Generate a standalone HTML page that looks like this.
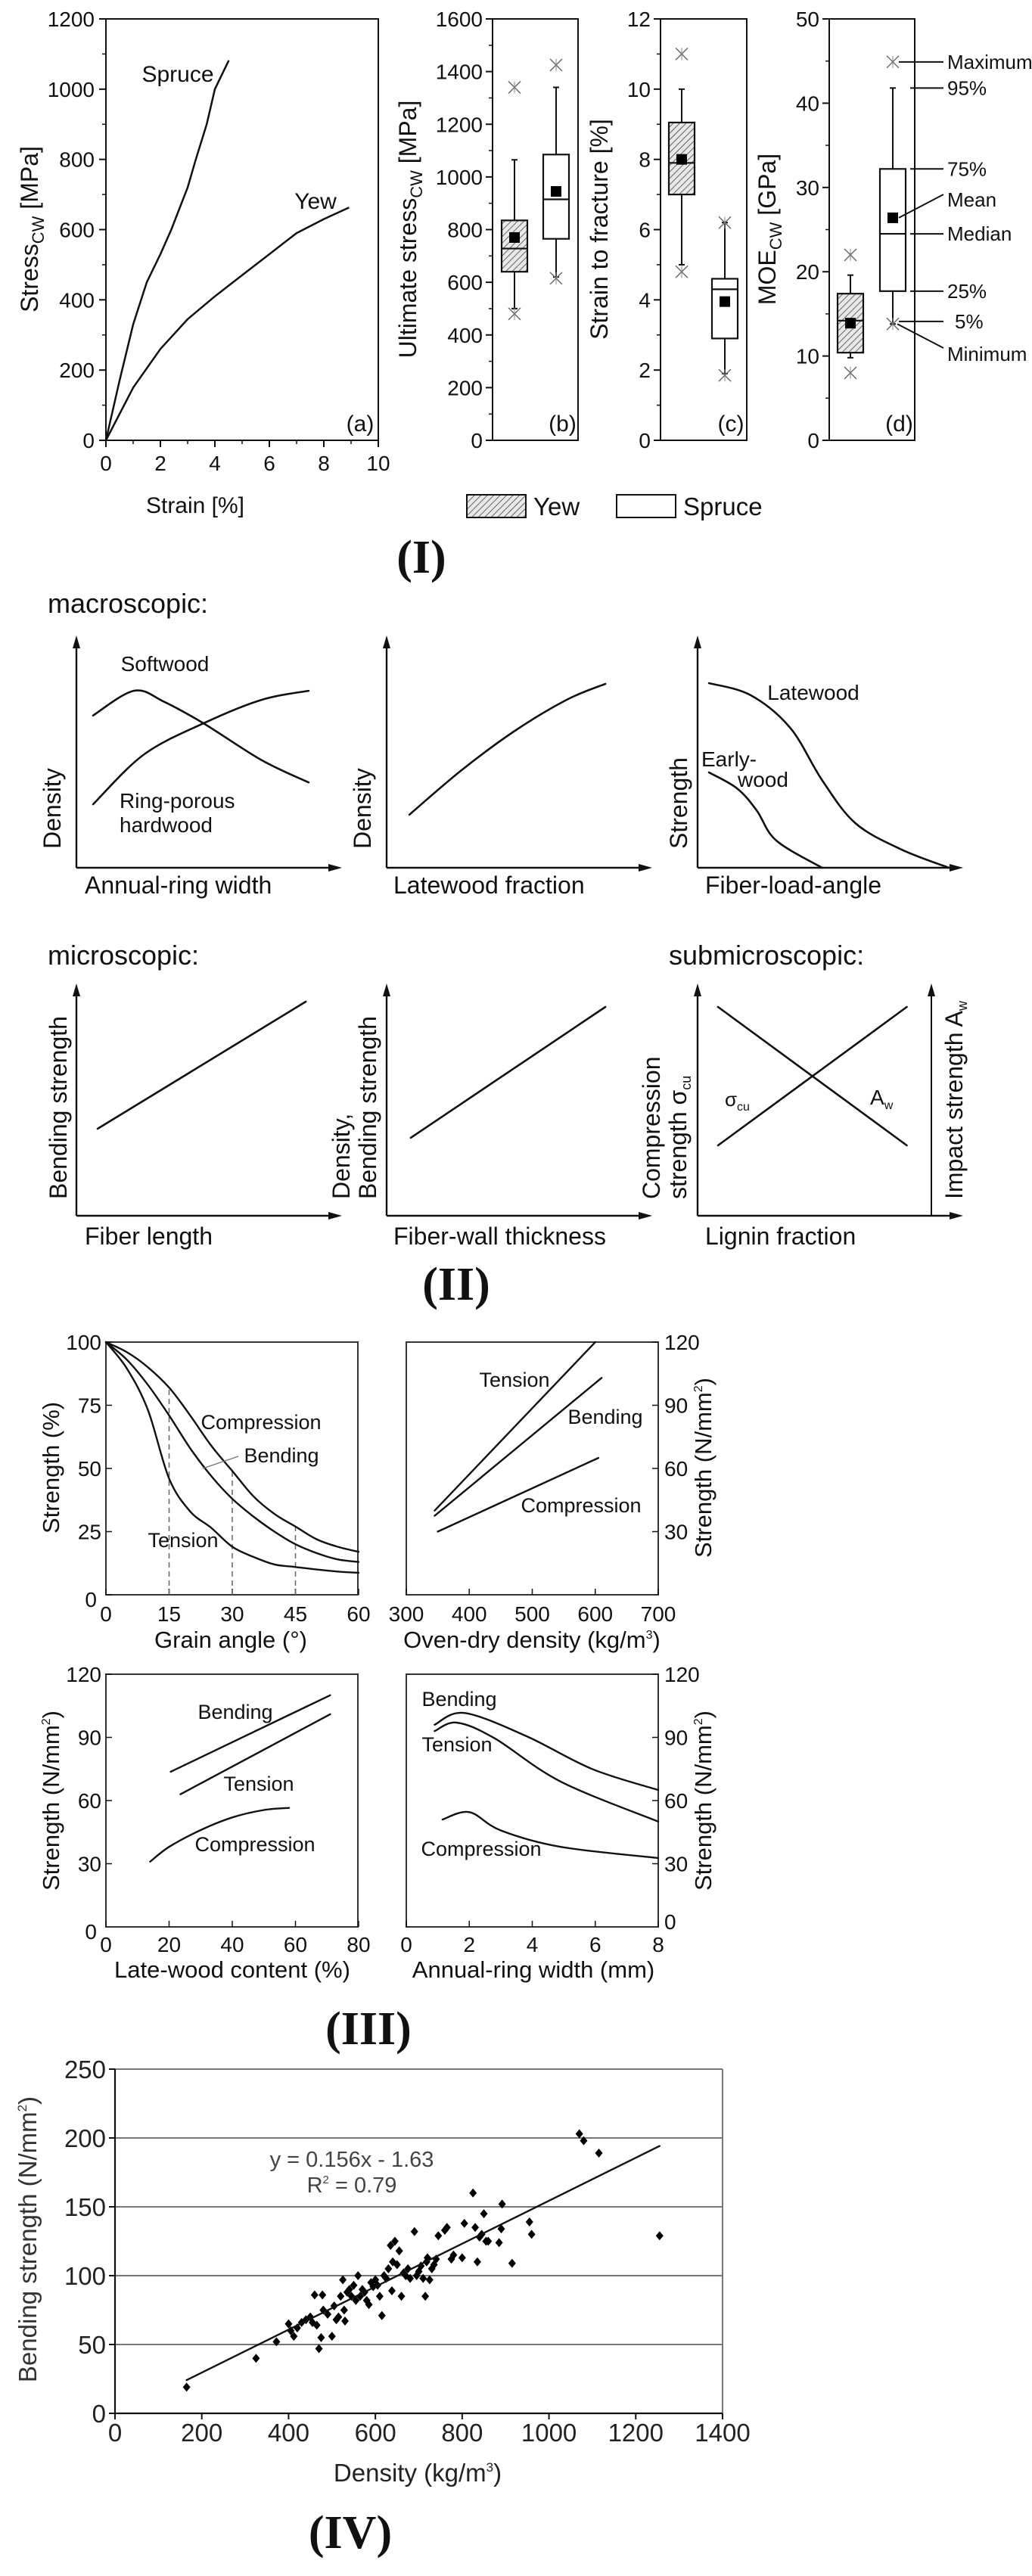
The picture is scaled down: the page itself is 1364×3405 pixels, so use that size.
<!DOCTYPE html>
<html><head><meta charset="utf-8"><title>Wood strength figure</title>
<style>
html,body{margin:0;padding:0;background:#fff;}
svg{display:block;font-family:"Liberation Sans",Arial,sans-serif;}
</style></head>
<body>
<svg id="fig" xmlns="http://www.w3.org/2000/svg" width="1364" height="3405" viewBox="0 0 1364 3405">
<defs>
<pattern id="hatch" patternUnits="userSpaceOnUse" width="6" height="6" patternTransform="rotate(45)">
<rect width="6" height="6" fill="#e8e8e8"/><line x1="0" y1="0" x2="0" y2="6" stroke="#444" stroke-width="1.6"/>
</pattern>
</defs>
<rect x="0" y="0" width="1364" height="3405" fill="#fff"/>
</svg>
<script>
// ---------- DATA ----------
const spruceStrain=[0,0.5,1,1.5,2,2.4,3,3.3,3.7,4.0,4.5];
const spruceStress=[0,170,330,450,530,600,720,800,900,1000,1080];
const yewStrain=[0,1,2,3,4,5,6,7,8,8.9];
const yewStress=[0,150,260,345,410,470,530,590,630,662];
const axAx=[0,2,4,6,8,10];
const axAy=[0,200,400,600,800,1000,1200];
const ultYew=[500,640,728,835,1065,770,480,1340];
const ultSpruce=[620,765,915,1085,1340,945,615,1425];
const sfYew=[5,7,7.9,9.05,10,8.0,4.8,11];
const sfSpruce=[1.9,2.9,4.3,4.6,6.2,3.95,1.85,6.2];
const moeYew=[9.8,10.4,14.2,17.4,19.6,13.9,8,22];
const moeSpruce=[13.8,17.7,24.5,32.2,41.8,26.4,13.8,44.9];
const ticksB=[0,200,400,600,800,1000,1200,1400,1600];
const ticksC=[0,2,4,6,8,10,12];
const ticksD=[0,10,20,30,40,50];
const softU=[6.3,21.7,33,48,70,87.7], softV=[66,76.7,72,62.6,46.6,37];
const hardU=[6.3,25.4,48,70,87.7], hardV=[27.5,49,62.6,72.8,76.7];
const lateFracU=[8.6,28,48,68,82.6], lateFracV=[23,42,59,72.8,79.7];
const latewoodU=[4.3,20,35,47,59.6,77,94.9], latewoodV=[80,74.8,60.6,38,19.3,7.9,0];
const earlyU=[4.3,14.9,22.3,29.7,47], earlyV=[41.3,34.4,24.9,11.8,0];
const fiberLenU=[8,86.6], fiberLenV=[37.7,92.8];
const wallU=[9.1,82.6], wallV=[33.8,90.5];
const sigmaU=[7.7,79], sigmaV=[30.5,90.5];
const awU=[7.7,79], awV=[90.5,30.5];
const grainAngle=[0,5,10,15,20,25,30,35,40,45,50,55,60];
const grainComp=[100,96,90,82,71,59,49,39,32,27,22,19,17];
const grainBend=[100,93,83,71,58,47,38,31,25,20,16.5,14,13];
const grainTens=[100,89.5,73,46,33,26.5,19,15,12,11,10,9.2,8.7];
const grainTicksX=[0,15,30,45,60], grainTicksY=[0,25,50,75,100];
const densX=[345,600], densTens=[40,120];
const densBX=[345,610], densBend=[37.5,103];
const densCX=[350,605], densComp=[30,65];
const densTicksX=[300,400,500,600,700], strTicks=[30,60,90,120];
const lwBendX=[20.5,71], lwBend=[73.7,110];
const lwTensX=[23.6,71], lwTens=[63,101];
const lwCompX=[14,20,30,40,50,58], lwComp=[31,38,46,52,55.5,56.5];
const lwTicksX=[0,20,40,60,80];
const arX=[0.9,1.84,3.8,5.9,8], arBend=[96,101.6,90.7,75,65];
const arTX=[0.9,1.6,2.8,4.9,8], arTens=[93,97,89.6,69,50];
const arCX=[1.15,2,3,4.9,8], arComp=[51,54.5,45.8,38,32.7];
const arTicksX=[0,2,4,6,8];
const densityPts=[165,325,372,400,405,412,420,430,440,450,455,460,465,470,475,478,480,490,500,505,510,515,520,525,528,530,535,540,545,550,555,560,565,570,575,580,585,590,595,600,605,610,615,620,625,630,635,638,640,645,650,655,660,665,670,675,680,690,695,700,705,710,715,718,720,725,730,735,740,745,760,765,775,780,800,805,825,830,835,840,845,850,855,860,885,890,892,915,955,960,1070,1080,1115,1255];
const bendingPts=[19,40,52,65,60,56,62,66,68,70,66,86,64,47,55,86,75,72,56,78,68,70,85,97,75,67,88,90,85,93,82,100,85,90,88,82,79,95,92,97,93,85,71,100,98,105,122,89,110,125,108,118,85,102,100,105,98,132,100,103,107,98,85,110,113,97,105,108,112,129,133,135,112,115,113,138,160,135,110,128,130,145,125,125,124,134,152,109,139,130,203,198,189,129];
const ivTicksX=[0,200,400,600,800,1000,1200,1400];
const ivTicksY=[0,50,100,150,200,250];
const trendSlope=0.156, trendIntercept=-1.63;

// ---------- HELPERS ----------
const NS="http://www.w3.org/2000/svg";
const svg=document.getElementById('fig');
function mk(tag,attrs,parent){const e=document.createElementNS(NS,tag);for(const k in attrs)e.setAttribute(k,attrs[k]);(parent||svg).appendChild(e);return e;}
function L(x1,y1,x2,y2,name,w,col,dash){const e=mk('line',{x1:x1,y1:y1,x2:x2,y2:y2,stroke:col||'#111','stroke-width':w||2});if(dash)e.setAttribute('stroke-dasharray',dash);


return e;}
function T(x,y,s,size,name,anchor,opts){opts=opts||{};const e=mk('text',{x:x,y:y,'font-size':size,fill:opts.fill||'#111','text-anchor':anchor||'start'});
if(opts.rot)e.setAttribute('transform','rotate(-90 '+x+' '+y+')');
if(opts.family)e.setAttribute('font-family',opts.family);
if(opts.weight)e.setAttribute('font-weight',opts.weight);
e.textContent=s;


return e;}
function P(pts,name,w,col){const d=pts.map((p,i)=>(i?'L':'M')+p[0].toFixed(1)+' '+p[1].toFixed(1)).join(' ');const e=mk('path',{d:d,fill:'none',stroke:col||'#111','stroke-width':w||2.5,'stroke-linejoin':'round','stroke-linecap':'round'});


return e;}
function smooth(pts,name,w){
  let d='M'+pts[0][0]+' '+pts[0][1];
  for(let i=0;i<pts.length-1;i++){const p0=pts[i-1]||pts[i],p1=pts[i],p2=pts[i+1],p3=pts[i+2]||p2;
    d+=' C'+(p1[0]+(p2[0]-p0[0])/6).toFixed(1)+' '+(p1[1]+(p2[1]-p0[1])/6).toFixed(1)+' '+(p2[0]-(p3[0]-p1[0])/6).toFixed(1)+' '+(p2[1]-(p3[1]-p1[1])/6).toFixed(1)+' '+p2[0].toFixed(1)+' '+p2[1].toFixed(1);}
  const e=mk('path',{d:d,fill:'none',stroke:'#111','stroke-width':w||2.6,'stroke-linecap':'round'});
  
  
  return e;}
function zip(xs,ys,fx,fy){return xs.map((x,i)=>[fx(x),fy(ys[i])]);}

// ---------- SECTION I ----------
const top1=25,bot1=582;
const aX=v=>140+v*36, aY=v=>bot1-v*(bot1-top1)/1200;
let r=mk('rect',{x:140,y:top1,width:360,height:bot1-top1,fill:'none',stroke:'#111','stroke-width':2});


axAx.forEach(v=>{L(aX(v),bot1,aX(v),bot1+9,'x-tick-a');T(aX(v),bot1+40,String(v),28,'x-tick-label-a','middle');});
for(let v=1;v<10;v+=2)L(aX(v),bot1,aX(v),bot1+5,'x-minor-tick-a',1.5);
axAy.forEach(v=>{L(140,aY(v),131,aY(v),'y-tick-a');T(125,aY(v)+10,String(v),28,'y-tick-label-a','end');});
for(let v=100;v<1200;v+=200)L(140,aY(v),135,aY(v),'y-minor-tick-a',1.5);
P(zip(spruceStrain,spruceStress,aX,aY),'spruce-curve',2.5);
P(zip(yewStrain,yewStress,aX,aY),'yew-curve',2.5);
T(235,108,'Spruce',30,'spruce-label','middle');
T(417,276,'Yew',30,'yew-label','middle');
T(476,570,'(a)',30,'panel-a-label','middle');
T(258,678,'Strain [%]',30,'x-axis-title-a','middle');
let t=T(50,303,'',32,'y-axis-title-a','middle',{rot:1});
t.innerHTML='Stress<tspan font-size="22" dy="8">CW</tspan><tspan dy="-8"> [MPa]</tspan>';

function boxPanel(left,right,max,ticks,minorStep,yew,spruce,yewX,spX,id,label,title,titleX){
  const Y=v=>bot1-v*(bot1-top1)/max;
  let fr=mk('rect',{x:left,y:top1,width:right-left,height:bot1-top1,fill:'none',stroke:'#111','stroke-width':2});
  
  
  ticks.forEach(v=>{L(left,Y(v),left-9,Y(v),'y-tick-'+id);T(left-13,Y(v)+10,String(v),28,'y-tick-label-'+id,'end');});
  for(let v=minorStep;v<max;v+=minorStep*2)L(left,Y(v),left-5,Y(v),'y-minor-tick-'+id,1.5);
  [[yew,yewX,'url(#hatch)','yew'],[spruce,spX,'#fff','spruce']].forEach(([s,cx,fill,nm])=>{
    const hw=17;
    L(cx,Y(s[0]),cx,Y(s[1]),nm+'-whisker-low-'+id,2);
    L(cx,Y(s[3]),cx,Y(s[4]),nm+'-whisker-high-'+id,2);
    L(cx-4,Y(s[0]),cx+4,Y(s[0]),nm+'-cap-low-'+id,2);
    L(cx-4,Y(s[4]),cx+4,Y(s[4]),nm+'-cap-high-'+id,2);
    let b=mk('rect',{x:cx-hw,y:Y(s[3]),width:hw*2,height:Y(s[1])-Y(s[3]),fill:fill,stroke:'#111','stroke-width':2.2});
    
    
    L(cx-hw,Y(s[2]),cx+hw,Y(s[2]),nm+'-median-'+id,2.2);
    let m=mk('rect',{x:cx-7,y:Y(s[5])-7,width:14,height:14,fill:'#000'});
    
    
    [s[6],s[7]].forEach(o=>{const y=Y(o);L(cx-8,y-8,cx+8,y+8,nm+'-outlier-'+id,1.4,'#666');L(cx-8,y+8,cx+8,y-8,nm+'-outlier-'+id,1.4,'#666');L(cx,y-8,cx,y+8,nm+'-outlier-'+id,1,'#888');});
  });
  T((left+right)/2+36,570,label,30,'panel-'+id+'-label','middle');
  let tt=T(titleX,303,'',32,'y-axis-title-'+id,'middle',{rot:1});
  tt.innerHTML=title;
  return Y;
}
boxPanel(651,764,1600,ticksB,100,ultYew,ultSpruce,680,735,'b','(b)','Ultimate stress<tspan font-size="22" dy="8">CW</tspan><tspan dy="-8"> [MPa]</tspan>',550);
boxPanel(873,987,12,ticksC,1,sfYew,sfSpruce,901,958,'c','(c)','Strain to fracture [%]',803);
const dY=boxPanel(1096,1209,50,ticksD,5,moeYew,moeSpruce,1124,1180,'d','(d)','MOE<tspan font-size="22" dy="8">CW</tspan><tspan dy="-8"> [GPa]</tspan>',1025);
const annNames=['Maximum','95%','75%','Median','25%','5%'];
const annVals=[44.9,41.8,32.2,24.5,17.7,14.1];
annNames.forEach((n,i)=>{const y=dY(annVals[i]);L(i==0||i==5?1188:1203,y,1247,y,'annotation-line');T(n=='5%'?1262:1252,y+9,n,26,'annotation-'+n.replace('%','pct').toLowerCase());});
L(1188,dY(26.4),1247,265-8,'annotation-line-mean');T(1252,273,'Mean',26,'annotation-mean');
L(1186,dY(13.8),1247,460,'annotation-line-minimum');T(1252,477,'Minimum',26,'annotation-minimum');
let lg=mk('rect',{x:617,y:654,width:78,height:30,fill:'url(#hatch)',stroke:'#111','stroke-width':2});


T(705,681,'Yew',33,'legend-yew-label');
lg=mk('rect',{x:815,y:654,width:78,height:30,fill:'#fff',stroke:'#111','stroke-width':2});


T(903,681,'Spruce',33,'legend-spruce-label');
T(557,757,'(I)',62,'section-label-i','middle',{family:'"Liberation Serif",serif',weight:'bold'});

// ---------- SECTION II ----------
function concept(ox,oy,name,rightAxis){
  const X=u=>ox+u*3.5, Y=v=>oy-v*3.05;
  L(ox,oy,ox,oy-300,name+'-y-axis',2.4);
  let a=mk('path',{d:`M${ox-5} ${oy-290} L${ox} ${oy-307} L${ox+5} ${oy-290} Z`,fill:'#111'});
  
  
  L(ox,oy,ox+342,oy,name+'-x-axis',2.4);
  a=mk('path',{d:`M${ox+333} ${oy-5} L${ox+351} ${oy} L${ox+333} ${oy+5} Z`,fill:'#111'});
  
  
  if(rightAxis){L(ox+309,oy,ox+309,oy-300,name+'-right-axis',2);a=mk('path',{d:`M${ox+304} ${oy-290} L${ox+309} ${oy-307} L${ox+314} ${oy-290} Z`,fill:'#111'});
  
  }
  return [X,Y];
}
T(63,810,'macroscopic:',36,'heading-macroscopic');
let [X1,Y1]=concept(101,1147,'annual-ring');
smooth(zip(softU,softV,X1,Y1),'softwood-curve');
smooth(zip(hardU,hardV,X1,Y1),'hardwood-curve');
T(218,887,'Softwood',28,'softwood-label','middle');
T(158,1068,'Ring-porous',28,'ring-porous-label');
T(158,1100,'hardwood',28,'hardwood-label');
T(80,1122,'Density',32,'y-title-annual-ring','start',{rot:1});
T(112,1181,'Annual-ring width',32,'x-title-annual-ring');
let [X2,Y2]=concept(511,1147,'latewood-fraction');
smooth(zip(lateFracU,lateFracV,X2,Y2),'latewood-fraction-curve');
T(490,1122,'Density',32,'y-title-latewood-fraction','start',{rot:1});
T(520,1181,'Latewood fraction',32,'x-title-latewood-fraction');
let [X3,Y3]=concept(922,1147,'fiber-load');
smooth(zip(latewoodU,latewoodV,X3,Y3),'latewood-curve');
smooth(zip(earlyU,earlyV,X3,Y3),'earlywood-curve');
T(1075,925,'Latewood',28,'latewood-label','middle');
T(927,1013,'Early-',28,'early-label');
T(975,1040,'wood',28,'wood-label');
T(908,1122,'Strength',32,'y-title-fiber-load','start',{rot:1});
T(932,1181,'Fiber-load-angle',32,'x-title-fiber-load');

T(63,1275,'microscopic:',36,'heading-microscopic');
T(884,1275,'submicroscopic:',36,'heading-submicroscopic');
let [X4,Y4]=concept(101,1607,'fiber-length');
P(zip(fiberLenU,fiberLenV,X4,Y4),'fiber-length-line',2.6);
T(88,1585,'Bending strength',32,'y-title-fiber-length','start',{rot:1});
T(112,1645,'Fiber length',32,'x-title-fiber-length');
let [X5,Y5]=concept(511,1607,'fiber-wall');
P(zip(wallU,wallV,X5,Y5),'fiber-wall-line',2.6);
T(462,1585,'Density,',32,'y-title-fiber-wall-1','start',{rot:1});
T(497,1585,'Bending strength',32,'y-title-fiber-wall-2','start',{rot:1});
T(520,1645,'Fiber-wall thickness',32,'x-title-fiber-wall');
let [X6,Y6]=concept(922,1607,'lignin',true);
P(zip(sigmaU,sigmaV,X6,Y6),'compression-strength-line',2.6);
P(zip(awU,awV,X6,Y6),'impact-strength-line',2.6);
t=T(958,1462,'',26,'sigma-label');t.innerHTML='σ<tspan font-size="16" dy="6">cu</tspan>';
t=T(1150,1460,'',28,'aw-label');t.innerHTML='A<tspan font-size="16" dy="6">w</tspan>';
T(872,1585,'Compression',32,'y-title-lignin-1','start',{rot:1});
t=T(907,1585,'',32,'y-title-lignin-2','start',{rot:1});t.innerHTML='strength σ<tspan font-size="18" dy="6">cu</tspan>';
t=T(1272,1585,'',32,'y-title-lignin-right','start',{rot:1});t.innerHTML='Impact strength A<tspan font-size="18" dy="6">w</tspan>';
T(932,1645,'Lignin fraction',32,'x-title-lignin');
T(603,1718,'(II)',62,'section-label-ii','middle',{family:'"Liberation Serif",serif',weight:'bold'});

// ---------- SECTION III ----------
function frame3(l,t,name){let f=mk('rect',{x:l,y:t,width:333,height:334,fill:'none',stroke:'#333','stroke-width':2});

}
const gX=v=>140+v*334/60, gY=v=>2108-v*334/100;
frame3(140,1774,'grain-angle-frame');
grainTicksX.forEach(v=>{L(gX(v),2108,gX(v),2100,'x-tick-grain',1.5);T(gX(v),2143,String(v),28,'x-tick-label-grain','middle');});
grainTicksY.forEach(v=>{L(140,gY(v),148,gY(v),'y-tick-grain',1.5);T(v==0?128:134,gY(v)+(v==0?16:10),String(v),28,'y-tick-label-grain','end');});
[[15,82],[30,49],[45,27]].forEach(([a,h])=>L(gX(a),2108,gX(a),gY(h),'dashed-guide-'+a,1.5,'#666','7 5'));
smooth(zip(grainAngle,grainComp,gX,gY),'grain-compression-curve',2.4);
smooth(zip(grainAngle,grainBend,gX,gY),'grain-bending-curve',2.4);
smooth(zip(grainAngle,grainTens,gX,gY),'grain-tension-curve',2.4);
T(345,1889,'Compression',27,'grain-compression-label','middle');
T(372,1933,'Bending',27,'grain-bending-label','middle');
L(268,1941,315,1925,'bending-leader',1.4,'#777');
T(242,2045,'Tension',27,'grain-tension-label','middle');
T(78,1940,'Strength (%)',31,'y-title-grain','middle',{rot:1});
T(305,2178,'Grain angle (°)',31,'x-title-grain','middle');
const dX=v=>537+(v-300)*333/400, sY=v=>2108-v*334/120;
frame3(537,1774,'density-frame');
densTicksX.forEach(v=>{L(dX(v),2108,dX(v),2100,'x-tick-density',1.5);T(dX(v),2143,String(v),28,'x-tick-label-density','middle');});
strTicks.forEach(v=>{L(870,sY(v),862,sY(v),'y-tick-density',1.5);T(878,sY(v)+10,String(v),28,'y-tick-label-density');});
P(zip(densX,densTens,dX,sY),'density-tension-line',2.4);
P(zip(densBX,densBend,dX,sY),'density-bending-line',2.4);
P(zip(densCX,densComp,dX,sY),'density-compression-line',2.4);
T(680,1833,'Tension',27,'density-tension-label','middle');
T(800,1882,'Bending',27,'density-bending-label','middle');
T(768,1999,'Compression',27,'density-compression-label','middle');
t=T(940,1940,'',31,'y-title-density','middle',{rot:1});t.innerHTML='Strength (N/mm<tspan font-size="16" dy="-12">2</tspan><tspan dy="12">)</tspan>';
t=T(703,2178,'',31,'x-title-density','middle');t.innerHTML='Oven-dry density (kg/m<tspan font-size="16" dy="-12">3</tspan><tspan dy="12">)</tspan>';
const wX=v=>140+v*334/80, bY=v=>2547-v*334/120;
frame3(140,2213,'latewood-content-frame');
lwTicksX.forEach(v=>{L(wX(v),2547,wX(v),2539,'x-tick-latewood',1.5);T(wX(v),2580,String(v),28,'x-tick-label-latewood','middle');});
strTicks.forEach(v=>{L(140,bY(v),148,bY(v),'y-tick-latewood',1.5);T(134,bY(v)+10,String(v),28,'y-tick-label-latewood','end');});
T(128,2563,'0',28,'y-zero-latewood','end');
P(zip(lwBendX,lwBend,wX,bY),'latewood-bending-line',2.4);
P(zip(lwTensX,lwTens,wX,bY),'latewood-tension-line',2.4);
smooth(zip(lwCompX,lwComp,wX,bY),'latewood-compression-curve',2.4);
T(311,2272,'Bending',27,'latewood-bending-label','middle');
T(342,2367,'Tension',27,'latewood-tension-label','middle');
T(337,2447,'Compression',27,'latewood-compression-label','middle');
t=T(78,2380,'',31,'y-title-latewood','middle',{rot:1});t.innerHTML='Strength (N/mm<tspan font-size="16" dy="-12">2</tspan><tspan dy="12">)</tspan>';
T(307,2614,'Late-wood content (%)',31,'x-title-latewood','middle');
const rX=v=>537+v*333/8;
frame3(537,2213,'ring-width-frame');
arTicksX.forEach(v=>{L(rX(v),2547,rX(v),2539,'x-tick-ring',1.5);T(rX(v),2580,String(v),28,'x-tick-label-ring','middle');});
strTicks.forEach(v=>{L(870,bY(v),862,bY(v),'y-tick-ring',1.5);T(878,bY(v)+10,String(v),28,'y-tick-label-ring');});
T(878,2550,'0',28,'y-zero-ring');
smooth(zip(arX,arBend,rX,bY),'ring-bending-curve',2.4);
smooth(zip(arTX,arTens,rX,bY),'ring-tension-curve',2.4);
smooth(zip(arCX,arComp,rX,bY),'ring-compression-curve',2.4);
T(607,2255,'Bending',27,'ring-bending-label','middle');
T(604,2315,'Tension',27,'ring-tension-label','middle');
T(636,2453,'Compression',27,'ring-compression-label','middle');
t=T(940,2380,'',31,'y-title-ring','middle',{rot:1});t.innerHTML='Strength (N/mm<tspan font-size="16" dy="-12">2</tspan><tspan dy="12">)</tspan>';
T(705,2614,'Annual-ring width (mm)',31,'x-title-ring','middle');
T(487,2702,'(III)',62,'section-label-iii','middle',{family:'"Liberation Serif",serif',weight:'bold'});

// ---------- SECTION IV ----------
const iX=v=>152+v*803/1400, iY=v=>3190-v*455/250;
ivTicksY.forEach(v=>{if(v>0)L(152,iY(v),955,iY(v),'gridline-'+v,2,'#777');});
L(955,iY(250),955,iY(0),'plot-right-border',2,'#777');
L(152,iY(0),955,iY(0),'x-axis-iv',2.2,'#111');
L(152,iY(0),152,iY(250),'y-axis-iv',2.2,'#111');
ivTicksX.forEach(v=>{L(iX(v),iY(0),iX(v),iY(0)+8,'x-tick-iv',2);T(iX(v),3227,String(v),33,'x-tick-label-iv','middle',{fill:'#222'});});
ivTicksY.forEach(v=>{L(152,iY(v),144,iY(v),'y-tick-iv',2);T(140,iY(v)+12,String(v),33,'y-tick-label-iv','end',{fill:'#222'});});
densityPts.forEach((x,i)=>{const cx=iX(x),cy=iY(bendingPts[i]);
  const d=mk('path',{d:`M${cx} ${cy-6} L${cx+5} ${cy} L${cx} ${cy+6} L${cx-5} ${cy} Z`,fill:'#000'});
  
  });
P([[iX(165),iY(trendSlope*165+trendIntercept)],[iX(1255),iY(trendSlope*1255+trendIntercept)]],'trend-line',2.4);
T(465,2864,'y = 0.156x - 1.63',29,'equation-label','middle',{fill:'#444'});
t=T(465,2898,'',29,'r-squared-label','middle',{fill:'#444'});t.innerHTML='R<tspan font-size="15" dy="-12">2</tspan><tspan dy="12"> = 0.79</tspan>';
t=T(48,2960,'',33,'y-title-iv','middle',{rot:1,fill:'#333'});t.innerHTML='Bending strength (N/mm<tspan font-size="17" dy="-13">2</tspan><tspan dy="13">)</tspan>';
t=T(552,3280,'',33,'x-title-iv','middle',{fill:'#222'});t.innerHTML='Density (kg/m<tspan font-size="17" dy="-13">3</tspan><tspan dy="13">)</tspan>';
T(463,3368,'(IV)',62,'section-label-iv','middle',{family:'"Liberation Serif",serif',weight:'bold'});
</script>
</body></html>
